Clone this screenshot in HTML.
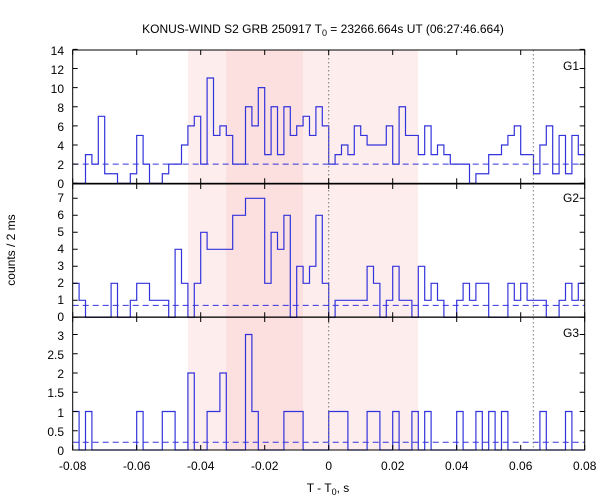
<!DOCTYPE html>
<html><head><meta charset="utf-8"><style>
body{margin:0;background:#fff}
svg{display:block;font-family:"Liberation Sans","DejaVu Sans",sans-serif;font-size:12px}
</style></head><body>
<svg id="s" width="600" height="500" xmlns="http://www.w3.org/2000/svg">
<rect x="188" y="50" width="230" height="400" fill="#fdeded"/>
<rect x="226" y="50" width="77" height="400" fill="#fcdfdf"/>
<g id="plots"></g>
<line x1="328.7" y1="50" x2="328.7" y2="450" stroke="#777" stroke-dasharray="1.5,2.5"/>
<line x1="533.3" y1="50" x2="533.3" y2="450" stroke="#777" stroke-dasharray="1.5,2.5"/>
<g id="frames" fill="none" stroke="#000" stroke-width="1"></g>
<text x="323" y="33" text-anchor="middle">KONUS-WIND S2 GRB 250917 T<tspan font-size="9" dy="3">0</tspan><tspan dy="-3"> = 23266.664s UT (06:27:46.664)</tspan></text>
<g text-anchor="end">
<text x="64" y="188">0</text><text x="64" y="169">2</text><text x="64" y="150">4</text><text x="64" y="131">6</text><text x="64" y="112">8</text><text x="64" y="93">10</text><text x="64" y="74">12</text><text x="64" y="55">14</text>
<text x="64" y="321">0</text><text x="64" y="304">1</text><text x="64" y="287">2</text><text x="64" y="270">3</text><text x="64" y="253">4</text><text x="64" y="236">5</text><text x="64" y="219">6</text><text x="64" y="202">7</text>
<text x="64" y="455">0</text><text x="64" y="436">0.5</text><text x="64" y="417">1</text><text x="64" y="397">1.5</text><text x="64" y="378">2</text><text x="64" y="359">2.5</text><text x="64" y="340">3</text>
<text x="579" y="70">G1</text><text x="579" y="202">G2</text><text x="579" y="337">G3</text>
</g>
<g text-anchor="middle">
<text x="72.7" y="470">-0.08</text><text x="136.7" y="470">-0.06</text><text x="200.7" y="470">-0.04</text><text x="264.7" y="470">-0.02</text><text x="328.7" y="470">0</text><text x="392.7" y="470">0.02</text><text x="456.7" y="470">0.04</text><text x="520.7" y="470">0.06</text><text x="584.7" y="470">0.08</text>
<text x="328" y="492">T - T<tspan font-size="9" dy="3">0</tspan><tspan dy="-3">, s</tspan></text>
</g>
<text transform="translate(15,250) rotate(-90)" text-anchor="middle">counts / 2 ms</text>
</svg>
<script>
var L=72.7,R=584.7,bw=(R-L)/80;
var g1=[0,0,3,2,7,1,1,0,0,1,5,2,0,0,1,2,2,4,6,7,2,11,5,6,5,2,2,8,6,10,3,8,3,8,5,6,7,5,8,6,2,3,4,3,6,5,4,4,4,6,2,8,5,5,3,6,3,4,3,2,2,2,0,1,1,3,3,4,5,6,3,3,1,4,6,1,5,1,5,3];
var g2=[2,1,0,0,0,0,2,0,0,1,2,2,1,1,1,0,4,2,0,2,5,4,4,4,4,6,6,7,7,7,2,5,4,6,0,3,2,3,6,2,0,1,1,1,1,1,3,2,0,1,3,1,1,0,3,1,2,1,0,0,1,2,1,2,2,0,0,0,2,1,2,1,1,1,0,0,1,2,1,2];
var g3=new Array(80).fill(0);
[[0,1],[2,1],[10,1],[14,1],[15,1],[18,2],[21,1],[22,1],[23,2],[27,3],[28,1],[33,1],[34,1],[35,1],[40,1],[41,1],[42,1],[46,1],[47,1],[50,1],[53,1],[55,1],[60,1],[63,1],[65,1],[67,1],[73,1],[77,1]].forEach(function(p){g3[p[0]]=p[1];});
var panels=[{d:g1,y0:183.3,k:9.57,top:50,bg:2,ticks:[0,2,4,6,8,10,12,14]},
{d:g2,y0:317.3,k:17,top:184,bg:0.7,ticks:[0,1,2,3,4,5,6,7]},
{d:g3,y0:450,k:38.5,top:317,bg:0.2,ticks:[0,0.5,1,1.5,2,2.5,3]}];
var ns="http://www.w3.org/2000/svg",P=document.getElementById('plots'),F=document.getElementById('frames');
function el(t,a,par){var e=document.createElementNS(ns,t);for(var k in a)e.setAttribute(k,a[k]);par.appendChild(e);return e;}
panels.forEach(function(p){
 var d="",y;
 for(var i=0;i<80;i++){y=p.y0-p.d[i]*p.k;var x=L+i*bw;d+=(i==0?"M"+x+" "+y:"L"+x+" "+y)+"L"+(x+bw)+" "+y;}
 el('path',{d:d,fill:'none',stroke:'#3333dd','stroke-width':1.2},P);
 var yb=p.y0-p.bg*p.k;
 el('line',{x1:L,y1:yb,x2:R,y2:yb,stroke:'#3333dd','stroke-dasharray':'6,4'},P);
 el('rect',{x:L,y:p.top,width:R-L,height:p.y0-p.top},F);
 var t="";
 for(var j=0;j<=8;j++){var x=L+j*64;t+="M"+x+" "+p.y0+"v-5M"+x+" "+p.top+"v5";}
 p.ticks.forEach(function(v){var yy=p.y0-v*p.k;t+="M"+L+" "+yy+"h5M"+R+" "+yy+"h-5";});
 el('path',{d:t},F);
});
</script>
</body></html>
